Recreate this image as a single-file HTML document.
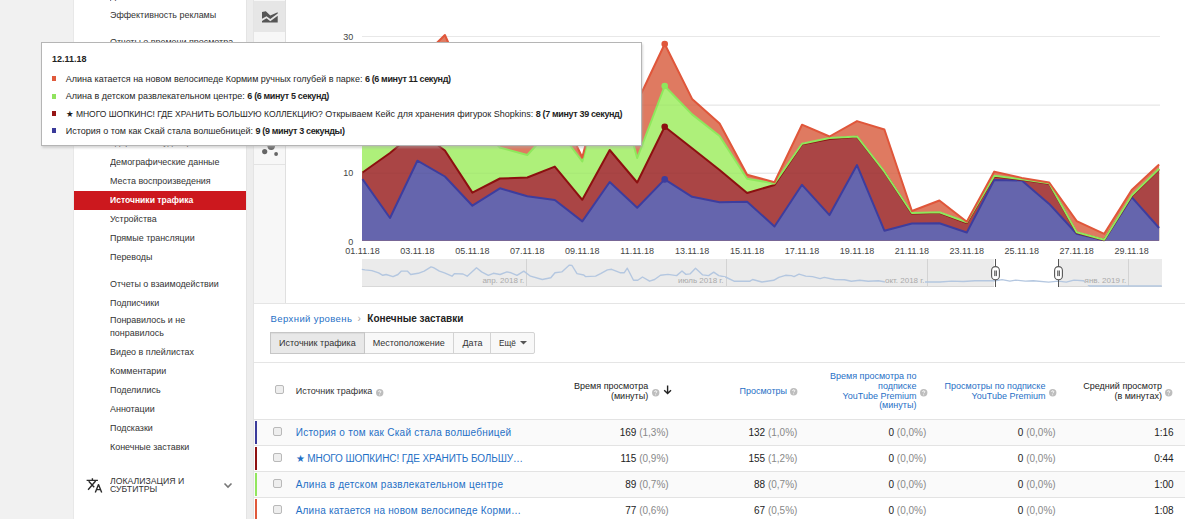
<!DOCTYPE html><html><head><meta charset="utf-8"><style>
html,body{margin:0;padding:0}
body{width:1185px;height:519px;overflow:hidden;position:relative;background:#f1f1f1;font-family:'Liberation Sans',sans-serif;}
.t{position:absolute;white-space:nowrap}
.abs{position:absolute}
</style></head><body>
<div class="abs" style="left:73px;top:0;width:173px;height:519px;background:#fff;border-left:1px solid #e8e8e8;box-sizing:border-box"></div>
<div class="abs" style="left:246px;top:0;width:8px;height:519px;background:#ededed;border-left:1px solid #e4e4e4;border-right:1px solid #e4e4e4;box-sizing:border-box"></div>
<div class="abs" style="left:254px;top:0;width:931px;height:519px;background:#fff"></div>
<div class="t" style="left:110.3px;top:-9.00px;font-size:9.5px;line-height:9.5px;color:#333;font-weight:normal;"><span style="display:inline-block;transform:scaleX(0.94);transform-origin:0 0">Дохолы</span></div>
<div class="t" style="left:110.3px;top:10.00px;font-size:9.5px;line-height:9.5px;color:#333;font-weight:normal;"><span style="display:inline-block;transform:scaleX(0.94);transform-origin:0 0">Эффективность рекламы</span></div>
<div class="t" style="left:110.3px;top:37.00px;font-size:9.5px;line-height:9.5px;color:#333;font-weight:normal;"><span style="display:inline-block;transform:scaleX(0.94);transform-origin:0 0">Отчеты о времени просмотра</span></div>
<div class="t" style="left:110.3px;top:56.00px;font-size:9.5px;line-height:9.5px;color:#333;font-weight:normal;"><span style="display:inline-block;transform:scaleX(0.94);transform-origin:0 0">Время просмотра</span></div>
<div class="t" style="left:110.3px;top:137.00px;font-size:9.5px;line-height:9.5px;color:#333;font-weight:normal;"><span style="display:inline-block;transform:scaleX(0.94);transform-origin:0 0">Удержание аудитории</span></div>
<div class="t" style="left:110.3px;top:157.00px;font-size:9.5px;line-height:9.5px;color:#333;font-weight:normal;"><span style="display:inline-block;transform:scaleX(0.94);transform-origin:0 0">Демографические данные</span></div>
<div class="t" style="left:110.3px;top:176.00px;font-size:9.5px;line-height:9.5px;color:#333;font-weight:normal;"><span style="display:inline-block;transform:scaleX(0.94);transform-origin:0 0">Места воспроизведения</span></div>
<div class="t" style="left:110.3px;top:214.00px;font-size:9.5px;line-height:9.5px;color:#333;font-weight:normal;"><span style="display:inline-block;transform:scaleX(0.94);transform-origin:0 0">Устройства</span></div>
<div class="t" style="left:110.3px;top:233.00px;font-size:9.5px;line-height:9.5px;color:#333;font-weight:normal;"><span style="display:inline-block;transform:scaleX(0.94);transform-origin:0 0">Прямые трансляции</span></div>
<div class="t" style="left:110.3px;top:252.00px;font-size:9.5px;line-height:9.5px;color:#333;font-weight:normal;"><span style="display:inline-block;transform:scaleX(0.94);transform-origin:0 0">Переводы</span></div>
<div class="t" style="left:110.3px;top:279.00px;font-size:9.5px;line-height:9.5px;color:#333;font-weight:normal;"><span style="display:inline-block;transform:scaleX(0.94);transform-origin:0 0">Отчеты о взаимодействии</span></div>
<div class="t" style="left:110.3px;top:298.00px;font-size:9.5px;line-height:9.5px;color:#333;font-weight:normal;"><span style="display:inline-block;transform:scaleX(0.94);transform-origin:0 0">Подписчики</span></div>
<div class="t" style="left:110.3px;top:315.00px;font-size:9.5px;line-height:9.5px;color:#333;font-weight:normal;"><span style="display:inline-block;transform:scaleX(0.94);transform-origin:0 0">Понравилось и не</span></div>
<div class="t" style="left:110.3px;top:328.00px;font-size:9.5px;line-height:9.5px;color:#333;font-weight:normal;"><span style="display:inline-block;transform:scaleX(0.94);transform-origin:0 0">понравилось</span></div>
<div class="t" style="left:110.3px;top:347.00px;font-size:9.5px;line-height:9.5px;color:#333;font-weight:normal;"><span style="display:inline-block;transform:scaleX(0.94);transform-origin:0 0">Видео в плейлистах</span></div>
<div class="t" style="left:110.3px;top:366.00px;font-size:9.5px;line-height:9.5px;color:#333;font-weight:normal;"><span style="display:inline-block;transform:scaleX(0.94);transform-origin:0 0">Комментарии</span></div>
<div class="t" style="left:110.3px;top:385.00px;font-size:9.5px;line-height:9.5px;color:#333;font-weight:normal;"><span style="display:inline-block;transform:scaleX(0.94);transform-origin:0 0">Поделились</span></div>
<div class="t" style="left:110.3px;top:404.00px;font-size:9.5px;line-height:9.5px;color:#333;font-weight:normal;"><span style="display:inline-block;transform:scaleX(0.94);transform-origin:0 0">Аннотации</span></div>
<div class="t" style="left:110.3px;top:423.00px;font-size:9.5px;line-height:9.5px;color:#333;font-weight:normal;"><span style="display:inline-block;transform:scaleX(0.94);transform-origin:0 0">Подсказки</span></div>
<div class="t" style="left:110.3px;top:442.00px;font-size:9.5px;line-height:9.5px;color:#333;font-weight:normal;"><span style="display:inline-block;transform:scaleX(0.94);transform-origin:0 0">Конечные заставки</span></div>
<div class="abs" style="left:74px;top:191px;width:172px;height:19px;background:#cc181e"></div>
<div class="t" style="left:110.3px;top:195.00px;font-size:9.5px;line-height:9.5px;color:#fff;font-weight:bold;"><span style="display:inline-block;transform:scaleX(0.9);transform-origin:0 0">Источники трафика</span></div>
<svg class="abs" style="left:80px;top:470px" width="26" height="26" viewBox="0 0 26 26">
<path d="M6.6 10.4H17.9M12.4 8.2V10.4M8.7 11.3L14.2 17.3M15.6 11L8.1 19.7" stroke="#2a2a2a" stroke-width="1.4" fill="none"/>
<path d="M15.3 22.6L18.5 14.6L21.7 22.6M16.4 19.6H20.6" stroke="#2a2a2a" stroke-width="1.4" fill="none" stroke-linejoin="round"/></svg>
<div class="t" style="left:110.2px;top:476.00px;font-size:9.5px;line-height:9.5px;color:#333;font-weight:normal;"><span style="display:inline-block;transform:scaleX(0.915);transform-origin:0 0">ЛОКАЛИЗАЦИЯ И</span></div>
<div class="t" style="left:110.2px;top:484.00px;font-size:9.5px;line-height:9.5px;color:#333;font-weight:normal;"><span style="display:inline-block;transform:scaleX(0.915);transform-origin:0 0">СУБТИТРЫ</span></div>
<svg class="abs" style="left:223px;top:482px" width="10" height="8" viewBox="0 0 10 8"><path d="M1.5 1.5l3.5 3.5 3.5-3.5" stroke="#777" stroke-width="1.6" fill="none"/></svg>
<div class="abs" style="left:254px;top:0;width:31px;height:303px;background:#f7f7f7;border-right:1px solid #e0e0e0"></div>
<div class="abs" style="left:254px;top:1px;width:31px;height:31px;background:#e6e6e6"></div>
<div class="abs" style="left:254px;top:164px;width:31px;height:1px;background:#e3e3e3"></div>
<svg class="abs" style="left:0;top:0" width="300" height="30"><path d="M262,12 L265.8,11.3 L270.3,15.5 L277.7,12.2 L277.7,13.6 L270.3,19.1 L266.5,16.2 L262,18.7 Z" fill="#555"/><path d="M262,21 L266.5,18.3 L270.3,21.3 L277.7,15.8 L277.7,22.5 L262,22.5 Z" fill="#555"/></svg>
<svg class="abs" style="left:260px;top:140px" width="22" height="20" viewBox="0 0 22 20"><circle cx="11.2" cy="6.3" r="3.7" fill="#666"/><circle cx="4.7" cy="11.6" r="2.6" fill="#666"/><circle cx="16.1" cy="14" r="1.9" fill="#666"/></svg>
<div class="abs" style="left:254px;top:303px;width:931px;height:1px;background:#e5e5e5"></div>
<svg class="abs" style="left:0;top:0" width="1185" height="519" viewBox="0 0 1185 519">
<rect x="362" y="36.0" width="798" height="1" fill="#e8e8e8"/>
<rect x="362" y="104.6" width="798" height="1" fill="#e8e8e8"/>
<rect x="362" y="172.7" width="798" height="1" fill="#e8e8e8"/>
<path d="M362,240.7 L362,110.0 L362.5,110.0 L390.0,100.0 L417.4,62.0 L444.9,35.0 L472.4,97.0 L499.9,125.0 L527.3,135.0 L554.8,100.0 L582.3,157.5 L609.7,50.0 L637.2,102.0 L664.7,44.0 L692.1,98.9 L719.6,123.5 L747.1,174.7 L774.5,182.3 L802.0,124.7 L829.5,136.5 L857.0,121.1 L884.4,129.5 L911.9,211.0 L939.4,200.5 L966.8,221.7 L994.3,171.6 L1021.8,177.9 L1049.2,182.5 L1076.7,221.2 L1104.2,233.8 L1131.7,190.0 L1159.1,164.4 L1159.1,240.7 Z" fill="#df7a61"/>
<path d="M362,240.7 L362,125.0 L362.5,125.0 L390.0,115.0 L417.4,95.0 L444.9,70.0 L472.4,120.0 L499.9,147.5 L527.3,155.0 L554.8,125.0 L582.3,161.5 L609.7,58.0 L637.2,158.0 L664.7,86.0 L692.1,114.4 L719.6,136.0 L747.1,178.8 L774.5,183.4 L802.0,143.7 L829.5,138.0 L857.0,136.4 L884.4,171.7 L911.9,213.0 L939.4,212.2 L966.8,222.3 L994.3,175.7 L1021.8,179.3 L1049.2,183.3 L1076.7,232.2 L1104.2,239.7 L1131.7,195.5 L1159.1,168.8 L1159.1,240.7 Z" fill="#aef07a"/>
<path d="M362,240.7 L362,172.5 L362.5,172.5 L390.0,153.0 L417.4,130.0 L444.9,150.5 L472.4,192.6 L499.9,178.5 L527.3,177.5 L554.8,166.6 L582.3,199.8 L609.7,150.0 L637.2,182.5 L664.7,126.8 L692.1,148.3 L719.6,170.0 L747.1,193.0 L774.5,185.0 L802.0,144.2 L829.5,139.0 L857.0,136.8 L884.4,172.0 L911.9,213.6 L939.4,212.8 L966.8,223.0 L994.3,176.6 L1021.8,179.8 L1049.2,183.7 L1076.7,232.8 L1104.2,240.0 L1131.7,196.2 L1159.1,169.3 L1159.1,240.7 Z" fill="#aa4545"/>
<path d="M362,240.7 L362,179.2 L362.5,179.2 L390.0,218.0 L417.4,160.7 L444.9,176.5 L472.4,205.7 L499.9,188.3 L527.3,196.2 L554.8,200.0 L582.3,221.4 L609.7,182.0 L637.2,207.8 L664.7,179.4 L692.1,196.8 L719.6,202.2 L747.1,201.7 L774.5,226.5 L802.0,184.8 L829.5,215.1 L857.0,165.1 L884.4,230.7 L911.9,223.5 L939.4,223.2 L966.8,232.5 L994.3,179.9 L1021.8,180.5 L1049.2,203.9 L1076.7,233.8 L1104.2,240.3 L1131.7,197.2 L1159.1,228.0 L1159.1,240.7 Z" fill="#6565ad"/>
<path d="M362.5,179.2 L390.0,218.0 L417.4,160.7 L444.9,176.5 L472.4,205.7 L499.9,188.3 L527.3,196.2 L554.8,200.0 L582.3,221.4 L609.7,182.0 L637.2,207.8 L664.7,179.4 L692.1,196.8 L719.6,202.2 L747.1,201.7 L774.5,226.5 L802.0,184.8 L829.5,215.1 L857.0,165.1 L884.4,230.7 L911.9,223.5 L939.4,223.2 L966.8,232.5 L994.3,179.9 L1021.8,180.5 L1049.2,203.9 L1076.7,233.8 L1104.2,240.3 L1131.7,197.2 L1159.1,228.0" fill="none" stroke="#3d3d9e" stroke-width="2" stroke-linejoin="round"/>
<path d="M362.5,172.5 L390.0,153.0 L417.4,130.0 L444.9,150.5 L472.4,192.6 L499.9,178.5 L527.3,177.5 L554.8,166.6 L582.3,199.8 L609.7,150.0 L637.2,182.5 L664.7,126.8 L692.1,148.3 L719.6,170.0 L747.1,193.0 L774.5,185.0 L802.0,144.2 L829.5,139.0 L857.0,136.8 L884.4,172.0 L911.9,213.6 L939.4,212.8 L966.8,223.0 L994.3,176.6 L1021.8,179.8 L1049.2,183.7 L1076.7,232.8 L1104.2,240.0 L1131.7,196.2 L1159.1,169.3" fill="none" stroke="#8c1010" stroke-width="2" stroke-linejoin="round"/>
<path d="M362.5,125.0 L390.0,115.0 L417.4,95.0 L444.9,70.0 L472.4,120.0 L499.9,147.5 L527.3,155.0 L554.8,125.0 L582.3,161.5 L609.7,58.0 L637.2,158.0 L664.7,86.0 L692.1,114.4 L719.6,136.0 L747.1,178.8 L774.5,183.4 L802.0,143.7 L829.5,138.0 L857.0,136.4 L884.4,171.7 L911.9,213.0 L939.4,212.2 L966.8,222.3 L994.3,175.7 L1021.8,179.3 L1049.2,183.3 L1076.7,232.2 L1104.2,239.7 L1131.7,195.5 L1159.1,168.8" fill="none" stroke="#8ee85c" stroke-width="2" stroke-linejoin="round"/>
<path d="M362.5,110.0 L390.0,100.0 L417.4,62.0 L444.9,35.0 L472.4,97.0 L499.9,125.0 L527.3,135.0 L554.8,100.0 L582.3,157.5 L609.7,50.0 L637.2,102.0 L664.7,44.0 L692.1,98.9 L719.6,123.5 L747.1,174.7 L774.5,182.3 L802.0,124.7 L829.5,136.5 L857.0,121.1 L884.4,129.5 L911.9,211.0 L939.4,200.5 L966.8,221.7 L994.3,171.6 L1021.8,177.9 L1049.2,182.5 L1076.7,221.2 L1104.2,233.8 L1131.7,190.0 L1159.1,164.4" fill="none" stroke="#e0563a" stroke-width="2" stroke-linejoin="round"/>
<rect x="362" y="104.6" width="798" height="1" fill="rgba(0,0,0,0.035)"/>
<rect x="362" y="172.7" width="798" height="1" fill="rgba(0,0,0,0.035)"/>
<circle cx="664.7" cy="44" r="3.3" fill="#e0563a"/>
<circle cx="664.7" cy="86" r="3.3" fill="#8ee85c"/>
<circle cx="664.7" cy="126.8" r="3.3" fill="#8c1010"/>
<circle cx="664.7" cy="179.4" r="3.3" fill="#3d3d9e"/>
</svg>
<div class="t" style="right:831.8px;top:33.00px;font-size:9px;line-height:9px;color:#444;font-weight:normal;text-align:right;">30</div>
<div class="t" style="right:831.8px;top:169.00px;font-size:9px;line-height:9px;color:#444;font-weight:normal;text-align:right;">10</div>
<div class="t" style="right:831.8px;top:238.00px;font-size:9px;line-height:9px;color:#444;font-weight:normal;text-align:right;">0</div>
<div class="t" style="left:337.5px;width:50px;text-align:center;top:247px;font-size:9px;line-height:9px;color:#444">01.11.18</div>
<div class="t" style="left:392.4px;width:50px;text-align:center;top:247px;font-size:9px;line-height:9px;color:#444">03.11.18</div>
<div class="t" style="left:447.4px;width:50px;text-align:center;top:247px;font-size:9px;line-height:9px;color:#444">05.11.18</div>
<div class="t" style="left:502.3px;width:50px;text-align:center;top:247px;font-size:9px;line-height:9px;color:#444">07.11.18</div>
<div class="t" style="left:557.3px;width:50px;text-align:center;top:247px;font-size:9px;line-height:9px;color:#444">09.11.18</div>
<div class="t" style="left:612.2px;width:50px;text-align:center;top:247px;font-size:9px;line-height:9px;color:#444">11.11.18</div>
<div class="t" style="left:667.1px;width:50px;text-align:center;top:247px;font-size:9px;line-height:9px;color:#444">13.11.18</div>
<div class="t" style="left:722.1px;width:50px;text-align:center;top:247px;font-size:9px;line-height:9px;color:#444">15.11.18</div>
<div class="t" style="left:777.0px;width:50px;text-align:center;top:247px;font-size:9px;line-height:9px;color:#444">17.11.18</div>
<div class="t" style="left:832.0px;width:50px;text-align:center;top:247px;font-size:9px;line-height:9px;color:#444">19.11.18</div>
<div class="t" style="left:886.9px;width:50px;text-align:center;top:247px;font-size:9px;line-height:9px;color:#444">21.11.18</div>
<div class="t" style="left:941.8px;width:50px;text-align:center;top:247px;font-size:9px;line-height:9px;color:#444">23.11.18</div>
<div class="t" style="left:996.8px;width:50px;text-align:center;top:247px;font-size:9px;line-height:9px;color:#444">25.11.18</div>
<div class="t" style="left:1051.7px;width:50px;text-align:center;top:247px;font-size:9px;line-height:9px;color:#444">27.11.18</div>
<div class="t" style="left:1106.7px;width:50px;text-align:center;top:247px;font-size:9px;line-height:9px;color:#444">29.11.18</div>
<div class="abs" style="left:362px;top:259px;width:800px;height:27px;background:#ebebeb;border-bottom:1px solid #d8d8d8"></div>
<div class="abs" style="left:994px;top:259px;width:64px;height:28px;background:#fff"></div>
<div class="abs" style="left:526px;top:259px;width:1px;height:27px;background:#d3d3d3"></div>
<div class="abs" style="left:726px;top:259px;width:1px;height:27px;background:#d3d3d3"></div>
<div class="abs" style="left:927px;top:259px;width:1px;height:27px;background:#d3d3d3"></div>
<div class="abs" style="left:1128px;top:259px;width:1px;height:27px;background:#d3d3d3"></div>
<svg class="abs" style="left:0;top:0" width="1185" height="519"><path d="M361.8,269.4 L365.0,269.9 L371.9,270.6 L378.6,272.8 L382.8,275.3 L386.2,274.5 L393.0,276.7 L398.0,274.5 L401.4,271.1 L407.3,271.1 L410.7,274.5 L418.3,273.3 L424.2,271.1 L431.0,266.9 L433.5,267.7 L439.4,271.1 L444.5,272.8 L452.0,276.2 L454.6,273.6 L463.0,274.0 L467.2,276.2 L476.5,267.7 L481.6,271.9 L488.3,275.3 L493.4,273.3 L500.1,274.5 L506.9,271.9 L511.1,272.8 L517.0,275.3 L523.8,271.1 L530.5,276.2 L542.3,279.5 L550.8,277.8 L555.0,272.7 L561.8,271.9 L569.4,265.1 L572.0,265.5 L577.0,273.6 L583.8,275.0 L585.4,276.6 L595.6,276.1 L600.6,273.6 L607.4,269.9 L611.6,269.3 L620.0,272.7 L624.3,272.7 L627.3,268.2 L633.5,280.3 L637.8,280.3 L642.5,277.0 L649.6,281.2 L654.6,279.5 L660.5,275.3 L668.0,274.4 L676.6,275.6 L682.0,271.0 L685.9,274.4 L690.0,273.9 L695.5,268.2 L698.5,271.0 L702.7,274.9 L708.6,275.6 L713.7,272.2 L718.8,275.6 L725.5,277.0 L734.0,281.2 L750.0,281.2 L752.6,279.5 L761.9,282.0 L773.7,280.3 L778.8,277.3 L785.5,275.3 L791.4,275.6 L794.0,276.6 L799.0,274.1 L805.8,276.1 L812.5,276.6 L820.1,278.6 L824.3,277.4 L834.5,279.5 L844.6,279.8 L851.3,281.2 L859.8,280.3 L868.2,281.2 L878.3,280.7 L884.2,281.7 L900.0,282.0 L927.3,282.0 L940.0,282.0 L951.6,281.1 L963.3,281.5 L975.0,280.7 L995.3,280.7 L1002.1,279.6 L1009.9,281.1 L1015.7,280.1 L1025.4,281.1 L1033.2,280.7 L1048.7,282.1 L1058.4,281.1 L1066.2,282.1 L1073.9,280.1 L1083.6,280.7 L1089.5,286.0 L1161.7,286.0" fill="none" stroke="#b4c7e0" stroke-width="1.4" stroke-linejoin="round"/></svg>
<div class="t" style="left:482.4px;top:277px;font-size:8px;line-height:8px;color:#aaa;background:#ebebeb;padding-right:1px">апр. 2018 г.</div>
<div class="t" style="left:678px;top:277px;font-size:8px;line-height:8px;color:#aaa;background:#ebebeb;padding-right:1px">июль 2018 г.</div>
<div class="t" style="left:885px;top:277px;font-size:8px;line-height:8px;color:#aaa;background:#ebebeb;padding-right:1px">окт. 2018 г.</div>
<div class="t" style="left:1084.6px;top:277px;font-size:8px;line-height:8px;color:#aaa;background:#ebebeb;padding-right:1px">янв. 2019 г.</div>
<div class="abs" style="left:994.7px;top:259px;width:1.2px;height:28px;background:#555"></div>
<svg class="abs" style="left:990.8px;top:265.5px" width="10" height="15"><rect x="0.6" y="0.6" width="7.8" height="13.2" rx="3.8" fill="#fff" stroke="#555" stroke-width="1.1"/><path d="M3.8 4.5v5.6M5.3 4.5v5.6" stroke="#444" stroke-width="1"/></svg>
<div class="abs" style="left:1057.8px;top:259px;width:1.2px;height:28px;background:#555"></div>
<svg class="abs" style="left:1053.9px;top:265.5px" width="10" height="15"><rect x="0.6" y="0.6" width="7.8" height="13.2" rx="3.8" fill="#fff" stroke="#555" stroke-width="1.1"/><path d="M3.8 4.5v5.6M5.3 4.5v5.6" stroke="#444" stroke-width="1"/></svg>
<div class="abs" style="left:41px;top:42px;width:599px;height:102px;background:#fff;border:1px solid #b5b5b5;box-shadow:1px 2px 2px rgba(170,170,170,.45)"></div>
<div class="t" style="left:51.9px;top:55.00px;font-size:9px;line-height:9px;color:#222;font-weight:bold;">12.11.18</div>
<div class="abs" style="left:52px;top:76px;width:4px;height:5px;background:#e05a3c"></div>
<div class="t" style="left:65.8px;top:75px;font-size:9px;line-height:9px;color:#1e1e1e">Алина катается на новом велосипеде Кормим ручных голубей в парке: <b style="letter-spacing:-0.36px">6 (6 минут 11 секунд)</b></div>
<div class="abs" style="left:52px;top:94px;width:4px;height:5px;background:#90e35e"></div>
<div class="t" style="left:65.8px;top:92px;font-size:9px;line-height:9px;color:#1e1e1e">Алина в детском развлекательном центре: <b style="letter-spacing:-0.36px">6 (6 минут 5 секунд)</b></div>
<div class="abs" style="left:52px;top:111px;width:4px;height:5px;background:#961515"></div>
<div class="t" style="left:65.8px;top:110px;font-size:9px;line-height:9px;color:#1e1e1e"><span style="display:inline-block;width:257px"><span style="display:inline-block;transform:scaleX(.943);transform-origin:0 0">★ МНОГО ШОПКИНС! ГДЕ ХРАНИТЬ БОЛЬШУЮ КОЛЛЕКЦИЮ?</span></span> Открываем Кейс для хранения фигурок Shopkins: <b style="letter-spacing:-0.36px">8 (7 минут 39 секунд)</b></div>
<div class="abs" style="left:52px;top:128px;width:4px;height:5px;background:#3a3a9a"></div>
<div class="t" style="left:65.8px;top:127px;font-size:9px;line-height:9px;color:#1e1e1e">История о том как Скай стала волшебницей: <b style="letter-spacing:-0.36px">9 (9 минут 3 секунды)</b></div>
<div class="t" style="left:270.6px;top:314.00px;font-size:9.5px;line-height:9.5px;color:#1f70c6;font-weight:normal;letter-spacing:0.4px">Верхний уровень</div>
<div class="t" style="left:357.5px;top:314.00px;font-size:10px;line-height:10px;color:#aaa;font-weight:normal;">›</div>
<div class="t" style="left:367.3px;top:314.00px;font-size:10px;line-height:10px;color:#222;font-weight:bold;">Конечные заставки</div>
<div class="abs" style="left:270px;top:332px;width:265px;height:22px;border:1px solid #d3d3d3;background:#f8f8f8;box-sizing:border-box;border-radius:2px"></div>
<div class="abs" style="left:270px;top:332px;width:95px;height:22px;border:1px solid #c6c6c6;background:#e8e8e8;box-sizing:border-box;box-shadow:inset 0 1px 1px rgba(0,0,0,.06)"></div>
<div class="abs" style="left:453px;top:332px;width:1px;height:22px;background:#d3d3d3"></div>
<div class="abs" style="left:490px;top:332px;width:1px;height:22px;background:#d3d3d3"></div>
<div class="t" style="left:279.1px;top:339.00px;font-size:9px;line-height:9px;color:#333;font-weight:normal;">Источник трафика</div>
<div class="t" style="left:372.7px;top:339.00px;font-size:9px;line-height:9px;color:#333;font-weight:normal;">Местоположение</div>
<div class="t" style="left:462.5px;top:339.00px;font-size:9px;line-height:9px;color:#333;font-weight:normal;">Дата</div>
<div class="t" style="left:499.2px;top:339.00px;font-size:9px;line-height:9px;color:#333;font-weight:normal;"><span style="display:inline-block;transform:scaleX(0.92);transform-origin:0 0">Ещё</span></div>
<svg class="abs" style="left:520px;top:341px" width="8" height="4"><path d="M0 0h7l-3.5 3.5z" fill="#555"/></svg>
<div class="abs" style="left:254px;top:362px;width:931px;height:1px;background:#e5e5e5"></div>
<div class="abs" style="left:275px;top:385px;width:9px;height:9px;border:1px solid #b9b9b9;border-radius:2px;background:#eeeeee;box-sizing:border-box"></div>
<div class="t" style="left:295.7px;top:387.00px;font-size:9px;line-height:9px;color:#333;font-weight:normal;">Источник трафика</div>
<svg class="abs" style="left:376px;top:388.5px" width="8" height="8" viewBox="0 0 8 8"><circle cx="3.7" cy="3.7" r="3.7" fill="#bdbdbd"/><path d="M2.6 3c0-.7.5-1.2 1.1-1.2s1.1.4 1.1 1c0 .8-1 .8-1 1.6" stroke="#fff" stroke-width=".9" fill="none"/><circle cx="3.7" cy="5.7" r=".5" fill="#fff"/></svg>
<div class="t" style="right:536.8px;top:382.00px;font-size:9px;line-height:9px;color:#222;font-weight:normal;text-align:right;">Время просмотра</div>
<div class="t" style="right:536.8px;top:392.00px;font-size:9px;line-height:9px;color:#222;font-weight:normal;text-align:right;">(минуты)</div>
<svg class="abs" style="left:651.5px;top:388.5px" width="8" height="8" viewBox="0 0 8 8"><circle cx="3.7" cy="3.7" r="3.7" fill="#bdbdbd"/><path d="M2.6 3c0-.7.5-1.2 1.1-1.2s1.1.4 1.1 1c0 .8-1 .8-1 1.6" stroke="#fff" stroke-width=".9" fill="none"/><circle cx="3.7" cy="5.7" r=".5" fill="#fff"/></svg>
<svg class="abs" style="left:663px;top:385px" width="10" height="10"><path d="M4.6 0.5v8M1.2 5.2l3.4 3.4 3.4-3.4" stroke="#222" stroke-width="1.4" fill="none"/></svg>
<div class="t" style="right:398px;top:387.00px;font-size:9px;line-height:9px;color:#1f70c6;font-weight:normal;text-align:right;">Просмотры</div>
<svg class="abs" style="left:790.4px;top:388px" width="8" height="8" viewBox="0 0 8 8"><circle cx="3.7" cy="3.7" r="3.7" fill="#bdbdbd"/><path d="M2.6 3c0-.7.5-1.2 1.1-1.2s1.1.4 1.1 1c0 .8-1 .8-1 1.6" stroke="#fff" stroke-width=".9" fill="none"/><circle cx="3.7" cy="5.7" r=".5" fill="#fff"/></svg>
<div class="t" style="right:268.6px;top:372.00px;font-size:9px;line-height:9px;color:#1f70c6;font-weight:normal;text-align:right;">Время просмотра по</div>
<div class="t" style="right:268.6px;top:382.00px;font-size:9px;line-height:9px;color:#1f70c6;font-weight:normal;text-align:right;">подписке</div>
<div class="t" style="right:268.6px;top:392.00px;font-size:9px;line-height:9px;color:#1f70c6;font-weight:normal;text-align:right;">YouTube Premium</div>
<div class="t" style="right:268.6px;top:401.00px;font-size:9px;line-height:9px;color:#1f70c6;font-weight:normal;text-align:right;">(минуты)</div>
<svg class="abs" style="left:919.5px;top:388.5px" width="8" height="8" viewBox="0 0 8 8"><circle cx="3.7" cy="3.7" r="3.7" fill="#bdbdbd"/><path d="M2.6 3c0-.7.5-1.2 1.1-1.2s1.1.4 1.1 1c0 .8-1 .8-1 1.6" stroke="#fff" stroke-width=".9" fill="none"/><circle cx="3.7" cy="5.7" r=".5" fill="#fff"/></svg>
<div class="t" style="right:139.5999999999999px;top:382.00px;font-size:9px;line-height:9px;color:#1f70c6;font-weight:normal;text-align:right;">Просмотры по подписке</div>
<div class="t" style="right:139.5999999999999px;top:392.00px;font-size:9px;line-height:9px;color:#1f70c6;font-weight:normal;text-align:right;">YouTube Premium</div>
<svg class="abs" style="left:1049.2px;top:388.5px" width="8" height="8" viewBox="0 0 8 8"><circle cx="3.7" cy="3.7" r="3.7" fill="#bdbdbd"/><path d="M2.6 3c0-.7.5-1.2 1.1-1.2s1.1.4 1.1 1c0 .8-1 .8-1 1.6" stroke="#fff" stroke-width=".9" fill="none"/><circle cx="3.7" cy="5.7" r=".5" fill="#fff"/></svg>
<div class="t" style="right:23.09999999999991px;top:382.00px;font-size:9px;line-height:9px;color:#222;font-weight:normal;text-align:right;">Средний просмотр</div>
<div class="t" style="right:23.09999999999991px;top:392.00px;font-size:9px;line-height:9px;color:#222;font-weight:normal;text-align:right;">(в минутах)</div>
<svg class="abs" style="left:1165.3px;top:388.5px" width="8" height="8" viewBox="0 0 8 8"><circle cx="3.7" cy="3.7" r="3.7" fill="#bdbdbd"/><path d="M2.6 3c0-.7.5-1.2 1.1-1.2s1.1.4 1.1 1c0 .8-1 .8-1 1.6" stroke="#fff" stroke-width=".9" fill="none"/><circle cx="3.7" cy="5.7" r=".5" fill="#fff"/></svg>
<div class="abs" style="left:254px;top:419px;width:931px;height:26px;background:#fafafa;border-top:1px solid #e3e3e3;box-sizing:border-box"></div>
<div class="abs" style="left:255px;top:421px;width:2px;height:23px;background:#3b3b9b"></div>
<div class="abs" style="left:273px;top:427px;width:9px;height:9px;border:1px solid #b9b9b9;border-radius:2px;background:#eeeeee;box-sizing:border-box"></div>
<div class="t" style="left:295.7px;top:428.00px;font-size:10px;line-height:10px;color:#1f70c6;font-weight:normal;letter-spacing:0.26px">История о том как Скай стала волшебницей</div>
<div class="t" style="right:516.4px;top:428px;font-size:10px;line-height:10px;color:#222">169 <span style="color:#888">(1,3%)</span></div>
<div class="t" style="right:387.6px;top:428px;font-size:10px;line-height:10px;color:#222">132 <span style="color:#888">(1,0%)</span></div>
<div class="t" style="right:258.70000000000005px;top:428px;font-size:10px;line-height:10px;color:#222">0 <span style="color:#888">(0,0%)</span></div>
<div class="t" style="right:129.4000000000001px;top:428px;font-size:10px;line-height:10px;color:#222">0 <span style="color:#888">(0,0%)</span></div>
<div class="t" style="right:11.400000000000091px;top:428px;font-size:10px;line-height:10px;color:#222">1:16</div>
<div class="abs" style="left:254px;top:445px;width:931px;height:26px;background:#fff;border-top:1px solid #e3e3e3;box-sizing:border-box"></div>
<div class="abs" style="left:255px;top:447px;width:2px;height:23px;background:#8f1111"></div>
<div class="abs" style="left:273px;top:453px;width:9px;height:9px;border:1px solid #b9b9b9;border-radius:2px;background:#eeeeee;box-sizing:border-box"></div>
<div class="t" style="left:295.7px;top:454.00px;font-size:10px;line-height:10px;color:#1f70c6;font-weight:normal;letter-spacing:-0.09px">★ МНОГО ШОПКИНС! ГДЕ ХРАНИТЬ БОЛЬШУ…</div>
<div class="t" style="right:516.4px;top:454px;font-size:10px;line-height:10px;color:#222">115 <span style="color:#888">(0,9%)</span></div>
<div class="t" style="right:387.6px;top:454px;font-size:10px;line-height:10px;color:#222">155 <span style="color:#888">(1,2%)</span></div>
<div class="t" style="right:258.70000000000005px;top:454px;font-size:10px;line-height:10px;color:#222">0 <span style="color:#888">(0,0%)</span></div>
<div class="t" style="right:129.4000000000001px;top:454px;font-size:10px;line-height:10px;color:#222">0 <span style="color:#888">(0,0%)</span></div>
<div class="t" style="right:11.400000000000091px;top:454px;font-size:10px;line-height:10px;color:#222">0:44</div>
<div class="abs" style="left:254px;top:471px;width:931px;height:26px;background:#fafafa;border-top:1px solid #e3e3e3;box-sizing:border-box"></div>
<div class="abs" style="left:255px;top:473px;width:2px;height:23px;background:#92e65e"></div>
<div class="abs" style="left:273px;top:479px;width:9px;height:9px;border:1px solid #b9b9b9;border-radius:2px;background:#eeeeee;box-sizing:border-box"></div>
<div class="t" style="left:295.7px;top:480.00px;font-size:10px;line-height:10px;color:#1f70c6;font-weight:normal;letter-spacing:0.3px">Алина в детском развлекательном центре</div>
<div class="t" style="right:516.4px;top:480px;font-size:10px;line-height:10px;color:#222">89 <span style="color:#888">(0,7%)</span></div>
<div class="t" style="right:387.6px;top:480px;font-size:10px;line-height:10px;color:#222">88 <span style="color:#888">(0,7%)</span></div>
<div class="t" style="right:258.70000000000005px;top:480px;font-size:10px;line-height:10px;color:#222">0 <span style="color:#888">(0,0%)</span></div>
<div class="t" style="right:129.4000000000001px;top:480px;font-size:10px;line-height:10px;color:#222">0 <span style="color:#888">(0,0%)</span></div>
<div class="t" style="right:11.400000000000091px;top:480px;font-size:10px;line-height:10px;color:#222">1:00</div>
<div class="abs" style="left:254px;top:497px;width:931px;height:26px;background:#fff;border-top:1px solid #e3e3e3;box-sizing:border-box"></div>
<div class="abs" style="left:255px;top:499px;width:2px;height:23px;background:#e0593b"></div>
<div class="abs" style="left:273px;top:505px;width:9px;height:9px;border:1px solid #b9b9b9;border-radius:2px;background:#eeeeee;box-sizing:border-box"></div>
<div class="t" style="left:295.7px;top:506.00px;font-size:10px;line-height:10px;color:#1f70c6;font-weight:normal;letter-spacing:0.21px">Алина катается на новом велосипеде Корми…</div>
<div class="t" style="right:516.4px;top:506px;font-size:10px;line-height:10px;color:#222">77 <span style="color:#888">(0,6%)</span></div>
<div class="t" style="right:387.6px;top:506px;font-size:10px;line-height:10px;color:#222">67 <span style="color:#888">(0,5%)</span></div>
<div class="t" style="right:258.70000000000005px;top:506px;font-size:10px;line-height:10px;color:#222">0 <span style="color:#888">(0,0%)</span></div>
<div class="t" style="right:129.4000000000001px;top:506px;font-size:10px;line-height:10px;color:#222">0 <span style="color:#888">(0,0%)</span></div>
<div class="t" style="right:11.400000000000091px;top:506px;font-size:10px;line-height:10px;color:#222">1:08</div>
</body></html>
